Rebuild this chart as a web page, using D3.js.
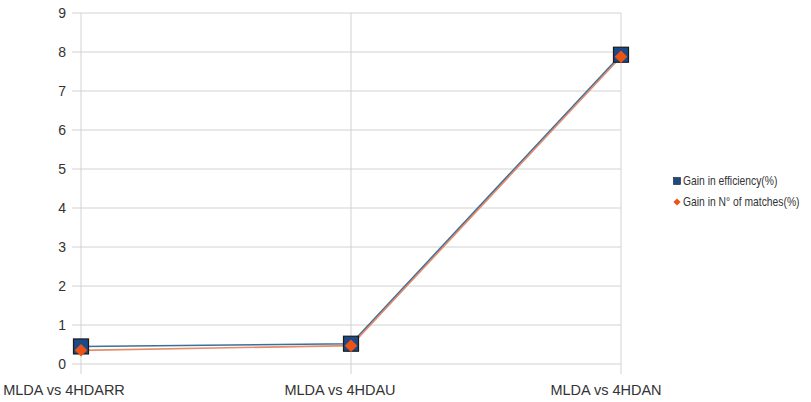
<!DOCTYPE html>
<html>
<head>
<meta charset="utf-8">
<script src="https://cdn.jsdelivr.net/npm/d3@7"></script>
<style>
  html, body { margin: 0; padding: 0; background: #fff; }
  svg { display: block; }
  text { font-family: "Liberation Sans", Arial, sans-serif; fill: #333; }
</style>
</head>
<body>
<svg id="chart" width="811" height="402"></svg>
<script>
// Comparisons on the x axis
const categories = ["MLDA vs 4HDARR", "MLDA vs 4HDAU", "MLDA vs 4HDAN"];
// Gain in efficiency (%)
const efficiencyGain = [0.45, 0.52, 7.93];
// Gain in number of matches (%)
const matchesGain = [0.35, 0.47, 7.88];
// Y axis ticks
const yTicks = [0, 1, 2, 3, 4, 5, 6, 7, 8, 9];
const seriesNames = ["Gain in efficiency(%)", "Gain in N° of matches(%)"];

const svg = d3.select("#chart");
const plotLeft = 81, plotRight = 621, plotTop = 13, plotBottom = 364;

const x = d3.scalePoint().domain(categories).range([plotLeft, plotRight]).padding(0);
const y = d3.scaleLinear().domain([0, 9]).range([plotBottom, plotTop]);

// horizontal gridlines with outer tick stubs
svg.append("g")
  .selectAll("line")
  .data(yTicks)
  .join("line")
  .attr("x1", plotLeft - 9).attr("x2", plotRight)
  .attr("y1", d => y(d)).attr("y2", d => y(d))
  .attr("stroke", "#d2d2d2").attr("stroke-width", 1);

// vertical gridlines at categories, with stubs below the baseline
svg.append("g")
  .selectAll("line")
  .data(categories)
  .join("line")
  .attr("x1", d => x(d)).attr("x2", d => x(d))
  .attr("y1", plotTop).attr("y2", plotBottom + 10)
  .attr("stroke", "#d2d2d2").attr("stroke-width", 1);

// y tick labels
svg.append("g")
  .selectAll("text")
  .data(yTicks)
  .join("text")
  .attr("x", plotLeft - 15)
  .attr("y", d => y(d))
  .attr("dy", "0.36em")
  .attr("text-anchor", "end")
  .attr("font-size", 14)
  .text(d => d);

// x category labels
const labelShift = [-17, -11, -15];
svg.append("g")
  .selectAll("text")
  .data(categories)
  .join("text")
  .attr("x", (d, i) => x(d) + labelShift[i])
  .attr("y", 395)
  .attr("text-anchor", "middle")
  .attr("font-size", 14.5)
  .text(d => d);

const line = d3.line().x((d, i) => x(categories[i])).y(d => y(d));

// series lines
svg.append("path").datum(efficiencyGain)
  .attr("d", line).attr("fill", "none")
  .attr("stroke", "#3d6f9c").attr("stroke-width", 1.6);
svg.append("path").datum(matchesGain)
  .attr("d", line).attr("fill", "none")
  .attr("stroke", "#e0784e").attr("stroke-width", 1.6).attr("stroke-opacity", 0.85);

// square markers
svg.append("g")
  .selectAll("rect")
  .data(efficiencyGain)
  .join("rect")
  .attr("x", (d, i) => x(categories[i]) - 7.5)
  .attr("y", d => y(d) - 7.5)
  .attr("width", 15).attr("height", 15)
  .attr("fill", "#1d4a86").attr("stroke", "#1a1a1a").attr("stroke-width", 1.2);

// diamond markers (squares turned 45 degrees)
svg.append("g")
  .selectAll("path")
  .data(matchesGain)
  .join("path")
  .attr("transform", (d, i) => `translate(${x(categories[i])},${y(d)}) rotate(45)`)
  .attr("d", d3.symbol().type(d3.symbolSquare).size(78))
  .attr("fill", "#ec5416");

// legend
const legend = svg.append("g").attr("transform", "translate(677,181)");
legend.append("rect")
  .attr("x", -3.5).attr("y", -3.5).attr("width", 7).attr("height", 7)
  .attr("fill", "#1d4a86").attr("stroke", "#1a1a1a").attr("stroke-width", 0.6);
legend.append("path")
  .attr("transform", "translate(0,21) rotate(45)")
  .attr("d", d3.symbol().type(d3.symbolSquare).size(26))
  .attr("fill", "#ec5416");
// narrow legend labels: horizontally squeezed text
legend.selectAll("text.lg")
  .data(seriesNames)
  .join("text")
  .attr("class", "lg")
  .attr("transform", (d, i) => `translate(6,${i * 21}) scale(0.86,1)`)
  .attr("dy", "0.35em")
  .attr("font-size", 12)
  .text(d => d);
</script>
</body>
</html>
